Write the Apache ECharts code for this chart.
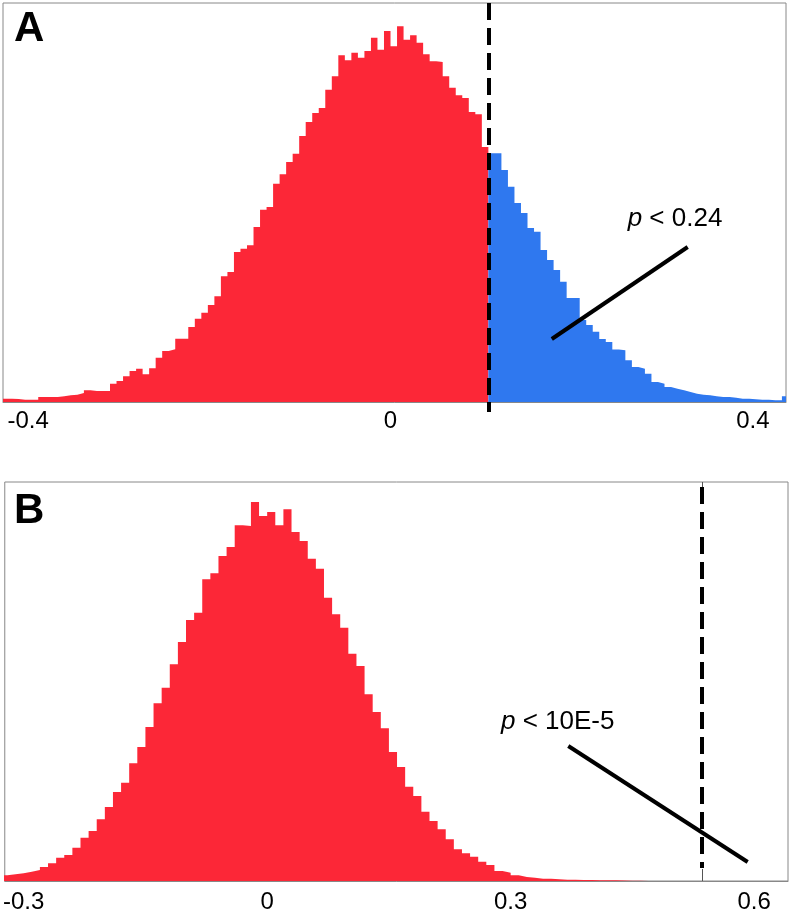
<!DOCTYPE html>
<html>
<head>
<meta charset="utf-8">
<script src="https://cdn.jsdelivr.net/npm/echarts@6/dist/echarts.min.js"></script>
<style>
html,body{margin:0;padding:0;background:#fff;}
#chart{width:792px;height:924px;}
</style>
</head>
<body>
<div id="chart"></div>
<script>
// ---------- Panel A data ----------
const binStartA = -0.432;
const binWidthA = 0.0072;
const countsA = [
  3.3, 3.3, 3, 2.3, 2.3, 2.3, 5, 5, 5, 5.7,
  6.7, 7.3, 9, 11.7, 11, 11, 11, 18.3, 21, 25.7,
  31, 33.3, 27.7, 33.7, 44.3, 51, 52.7, 63.3, 63.3, 75,
  83.3, 89.3, 97, 105.7, 125.7, 130, 150, 153.3, 156.7, 175,
  192.3, 195, 218.3, 227.7, 240, 248.3, 266, 280, 289, 294,
  312.3, 325.7, 346.7, 341.7, 349.3, 344.3, 351, 364.3, 352.3, 371,
  355.7, 375.7, 362.3, 366.7, 359.3, 347.7, 340.7, 340, 325.7, 314.3,
  306.7, 304, 290, 287.7, 255, 248.7, 248.7, 232, 215.3, 199,
  189, 174, 170.3, 152, 142, 132, 120.3, 104, 104, 82,
  77, 70.3, 63, 60, 52.5, 51.7, 41.7, 35, 33.3, 28.3,
  20, 18.3, 15, 13.3, 11.7, 10, 8.3, 7.3, 6.7, 5.7,
  5, 5, 4.3, 3.3, 3.3, 2.7, 2.3, 2.3, 1.7, 1.7,
  5.7
];
const thresholdA = 0.108;
const ticksA = [-0.4, 0, 0.4];
const pLabelA = '0.24';
const pointerA = [[0.178, 63], [0.328, 155]];
const textPosA = [0.314, 183];

// ---------- Panel B data ----------
const binStartB = -0.33;
const binWidthB = 0.01;
const countsB = [
  5.7, 6.7, 7.7, 9.3, 11, 14, 17.7, 23.3, 26, 33.3,
  43.3, 50, 61.7, 74, 89, 98.3, 117.7, 134, 154, 177.7,
  193.3, 216.7, 239, 261, 268.3, 301.7, 307.7, 325, 334, 355.7,
  355, 379, 365, 369, 355.7, 371.7, 349, 340, 322.3, 312.3,
  283.3, 266.7, 253.3, 227.3, 215, 186.7, 169, 152.7, 129, 114,
  94.3, 85, 69.3, 60, 51.7, 41.7, 31.7, 27.7, 24.3, 19.3,
  16, 10, 8.3, 5.7, 4, 3.3, 2.3, 2.3, 1.7, 1.3,
  1.3, 1, 1, 0.7, 0.7, 0.7, 0.5, 0.3, 0.3, 0,
  0, 0.7
];
const thresholdB = 0.536;
const ticksB = [-0.3, 0, 0.3, 0.6];
const pLabelB = '10E-5';
const pointerB = [[0.371, 135], [0.592, 19]];
const textPosB = [0.358, 159.5];

// ---------- build ----------
const RED = '#fc2737';
const BLUE = '#2f78ef';
const FONT = '"Liberation Sans", Arial, Helvetica, sans-serif';

// each bin -> [left edge, right edge, count]
function bins(start, width, counts) {
  return counts.map((c, i) => [start + i * width, start + (i + 1) * width, c]);
}
// step outline points: left edge of every bin, plus right edge of last bin
function stepPoints(list) {
  const pts = list.map(b => [b[0], b[2]]);
  const last = list[list.length - 1];
  pts.push([last[1], last[2]]);
  return pts;
}
const binsA = bins(binStartA, binWidthA, countsA);
const binsB = bins(binStartB, binWidthB, countsB);
const redA = binsA.filter(b => (b[0] + b[1]) / 2 < thresholdA);
const blueA = binsA.filter(b => (b[0] + b[1]) / 2 >= thresholdA);

function histSeries(list, color, idx, extra) {
  return Object.assign({
    type: 'line',
    xAxisIndex: idx,
    yAxisIndex: idx,
    step: 'end',
    showSymbol: false,
    symbol: 'none',
    clip: true,
    lineStyle: { width: 0, opacity: 0 },
    areaStyle: { color: color, opacity: 1 },
    data: stepPoints(list),
    silent: true,
    animation: false
  }, extra || {});
}

function annotation(pointer, textPos, pValue, threshold, yTop, yBottom, topTick) {
  const lines = [
    [{ coord: [threshold, yTop], lineStyle: { type: [17, 8], width: 4, color: '#000' } },
     { coord: [threshold, yBottom] }],
    [{ coord: pointer[0], lineStyle: { type: 'solid', width: 4, color: '#000' } },
     { coord: pointer[1] }]
  ];
  if (topTick) {
    lines.push([{ coord: [threshold, 399], lineStyle: { type: 'solid', width: 1, color: '#555' } },
                { coord: [threshold, yTop] }]);
  }
  return {
    markLine: {
      silent: true,
      symbol: ['none', 'none'],
      label: { show: false },
      animation: false,
      data: lines
    },
    markPoint: {
      silent: true,
      symbol: 'circle',
      symbolSize: 0,
      itemStyle: { color: 'transparent' },
      animation: false,
      label: {
        show: true,
        position: 'inside',
        color: '#000',
        fontFamily: FONT,
        fontSize: 26,
        formatter: '{i|p} < ' + pValue,
        rich: { i: { fontStyle: 'italic', fontFamily: FONT, fontSize: 26, color: '#000' } }
      },
      data: [{ coord: textPos }]
    }
  };
}

const chart = echarts.init(document.getElementById('chart'), null, { renderer: 'canvas' });

chart.setOption({
  backgroundColor: '#fff',
  animation: false,
  grid: [
    { left: 3, top: 3, width: 783, height: 399, show: true, borderColor: '#888', borderWidth: 1 },
    { left: 4, top: 482, width: 784, height: 399, show: true, borderColor: '#888', borderWidth: 1 }
  ],
  xAxis: [
    {
      gridIndex: 0, type: 'value', min: -0.4277, max: 0.4365,
      axisLine: { show: true, onZero: false, lineStyle: { color: '#888', width: 1 } },
      splitLine: { show: false },
      axisTick: { show: true, customValues: [thresholdA], length: 10, lineStyle: { color: '#000', width: 4 } },
      axisLabel: { show: true, customValues: ticksA, color: '#000', fontSize: 24, fontFamily: FONT, margin: 7 }
    },
    {
      gridIndex: 1, type: 'value', min: -0.3233, max: 0.6417,
      axisLine: { show: true, onZero: false, lineStyle: { color: '#888', width: 1 } },
      splitLine: { show: false },
      axisTick: { show: true, inside: true, customValues: [thresholdB], length: 12, lineStyle: { color: '#555', width: 1 } },
      axisLabel: { show: true, customValues: ticksB, color: '#000', fontSize: 24, fontFamily: FONT, margin: 9 }
    }
  ],
  yAxis: [
    { gridIndex: 0, type: 'value', min: 0, max: 399, show: false, splitLine: { show: false } },
    { gridIndex: 1, type: 'value', min: 0, max: 399, show: false, splitLine: { show: false } }
  ],
  graphic: [
    { type: 'text', left: 14, top: 8, style: { text: 'A', fill: '#000', font: 'bold 42px ' + FONT } },
    { type: 'text', left: 14, top: 490, style: { text: 'B', fill: '#000', font: 'bold 42px ' + FONT } }
  ],
  series: [
    histSeries(redA, RED, 0),
    histSeries(blueA, BLUE, 0, annotation(pointerA, textPosA, pLabelA, thresholdA, 399, 0, false)),
    histSeries(binsB, RED, 1, annotation(pointerB, textPosB, pLabelB, thresholdB, 394, 13, true))
  ]
});
</script>
</body>
</html>
